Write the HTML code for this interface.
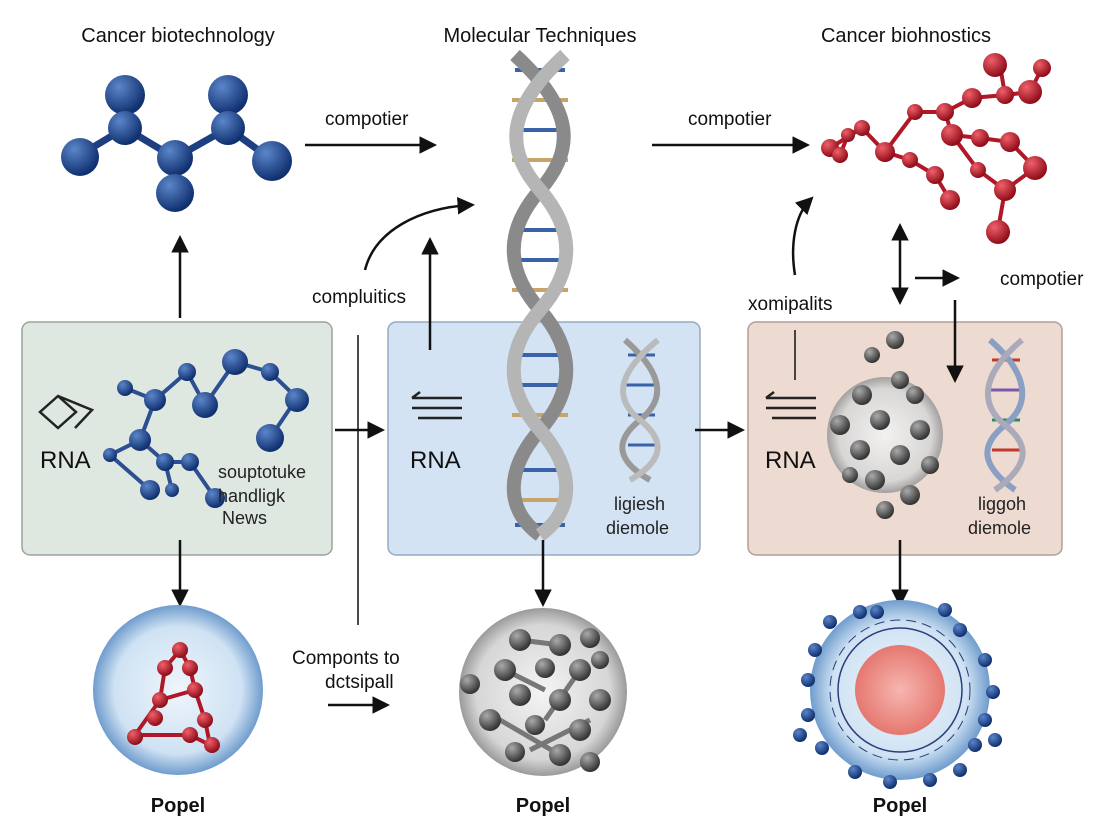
<!DOCTYPE html>
<html><head><meta charset="utf-8"><style>
body{margin:0;background:#fff;}
svg{display:block;font-family:"Liberation Sans",sans-serif;}
</style></head><body>
<svg width="1104" height="832" viewBox="0 0 1104 832">
<defs>
<radialGradient id="bb" cx="35%" cy="30%" r="70%"><stop offset="0" stop-color="#5b86c9"/><stop offset="1" stop-color="#0f2f6e"/></radialGradient>
<radialGradient id="rb" cx="35%" cy="30%" r="70%"><stop offset="0" stop-color="#f0606a"/><stop offset="1" stop-color="#8e0c18"/></radialGradient>
<radialGradient id="gb" cx="35%" cy="30%" r="70%"><stop offset="0" stop-color="#aaa"/><stop offset="1" stop-color="#333"/></radialGradient>
<radialGradient id="cellb" cx="50%" cy="50%" r="50%"><stop offset="0" stop-color="#eef5fc"/><stop offset="0.75" stop-color="#cfe2f3"/><stop offset="1" stop-color="#6f9ccd"/></radialGradient>
<radialGradient id="cellg" cx="50%" cy="50%" r="50%"><stop offset="0" stop-color="#f4f4f4"/><stop offset="0.8" stop-color="#d6d6d6"/><stop offset="1" stop-color="#9a9a9a"/></radialGradient>
<radialGradient id="pink" cx="50%" cy="50%" r="50%"><stop offset="0" stop-color="#f7b6b0"/><stop offset="1" stop-color="#e57870"/></radialGradient>
<marker id="ah" markerWidth="7" markerHeight="7" refX="5" refY="3.5" orient="auto-start-reverse" markerUnits="strokeWidth"><path d="M0,0 L7,3.5 L0,7 z" fill="#111"/></marker>
</defs>

<g font-size="20" fill="#111" text-anchor="middle">
<text x="178" y="42">Cancer biotechnology</text>
<text x="540" y="42">Molecular Techniques</text>
<text x="906" y="42">Cancer biohnostics</text>
</g>

<rect x="22" y="322" width="310" height="233" rx="8" fill="#dfe7e1" stroke="#9aa39d" stroke-width="1.5"/>
<rect x="388" y="322" width="312" height="233" rx="8" fill="#d3e3f3" stroke="#95abc2" stroke-width="1.5"/>
<rect x="748" y="322" width="314" height="233" rx="8" fill="#eddad1" stroke="#b59e94" stroke-width="1.5"/>

<g stroke="#1d3f80" stroke-width="7">
<line x1="80" y1="155" x2="125" y2="128"/><line x1="125" y1="128" x2="125" y2="95"/><line x1="125" y1="128" x2="175" y2="158"/>
<line x1="175" y1="158" x2="175" y2="192"/><line x1="175" y1="158" x2="228" y2="128"/><line x1="228" y1="128" x2="228" y2="95"/><line x1="228" y1="128" x2="272" y2="160"/>
</g>
<g fill="url(#bb)">
<circle cx="80" cy="157" r="19"/><circle cx="125" cy="95" r="20"/><circle cx="125" cy="128" r="17"/><circle cx="175" cy="158" r="18"/><circle cx="175" cy="193" r="19"/><circle cx="228" cy="95" r="20"/><circle cx="228" cy="128" r="17"/><circle cx="272" cy="161" r="20"/>
</g>

<g>
<g stroke-width="4">
<line x1="515" y1="70" x2="565" y2="70" stroke="#3a62a8"/><line x1="512" y1="100" x2="568" y2="100" stroke="#c9a46a"/>
<line x1="512" y1="130" x2="568" y2="130" stroke="#3a62a8"/><line x1="512" y1="160" x2="568" y2="160" stroke="#c9a46a"/>
<line x1="515" y1="230" x2="565" y2="230" stroke="#3a62a8"/><line x1="512" y1="260" x2="568" y2="260" stroke="#3a62a8"/>
<line x1="512" y1="290" x2="568" y2="290" stroke="#c9a46a"/><line x1="515" y1="355" x2="565" y2="355" stroke="#3a62a8"/>
<line x1="512" y1="385" x2="568" y2="385" stroke="#3a62a8"/><line x1="512" y1="415" x2="568" y2="415" stroke="#c9a46a"/>
<line x1="515" y1="470" x2="565" y2="470" stroke="#3a62a8"/><line x1="512" y1="500" x2="568" y2="500" stroke="#c9a46a"/>
<line x1="515" y1="525" x2="565" y2="525" stroke="#3a62a8"/>
</g>
<path d="M515,55 C575,110 575,150 540,190 C505,230 505,270 540,310 C575,350 575,390 540,430 C505,470 505,510 540,535" fill="none" stroke="#8a8a8a" stroke-width="14"/>
<path d="M565,55 C505,110 505,150 540,190 C575,230 575,270 540,310 C505,350 505,390 540,430 C575,470 575,510 540,535" fill="none" stroke="#b5b5b5" stroke-width="14"/>
</g>

<g>
<g stroke="#3a62a8" stroke-width="3"><line x1="628" y1="355" x2="655" y2="355"/><line x1="625" y1="385" x2="658" y2="385"/><line x1="628" y1="415" x2="655" y2="415"/><line x1="628" y1="445" x2="655" y2="445"/></g>
<path d="M625,340 C665,375 665,400 640,420 C615,440 615,460 650,480" fill="none" stroke="#999" stroke-width="6"/>
<path d="M658,340 C615,375 615,400 640,420 C665,440 665,460 630,480" fill="none" stroke="#bbb" stroke-width="6"/>
</g>

<g>
<g stroke-width="3"><line x1="992" y1="360" x2="1020" y2="360" stroke="#c0392b"/><line x1="990" y1="390" x2="1022" y2="390" stroke="#7a5aa8"/><line x1="992" y1="420" x2="1020" y2="420" stroke="#2e8b57"/><line x1="992" y1="450" x2="1020" y2="450" stroke="#c0392b"/></g>
<path d="M990,340 C1030,375 1030,405 1005,425 C980,445 980,465 1015,490" fill="none" stroke="#8a9fc4" stroke-width="6"/>
<path d="M1022,340 C980,375 980,405 1005,425 C1030,445 1030,465 995,490" fill="none" stroke="#aab" stroke-width="6"/>
</g>

<g stroke="#2c4f92" stroke-width="4" fill="none">
<polyline points="125,388 155,400 187,372 205,405 235,362 270,372 297,398 270,438"/>
<polyline points="155,400 140,440 110,455 150,490"/><polyline points="140,440 165,462 190,462 215,498"/><line x1="165" y1="462" x2="172" y2="490"/>
</g>
<g fill="url(#bb)">
<circle cx="125" cy="388" r="8"/><circle cx="155" cy="400" r="11"/><circle cx="187" cy="372" r="9"/><circle cx="205" cy="405" r="13"/><circle cx="235" cy="362" r="13"/><circle cx="270" cy="372" r="9"/><circle cx="297" cy="400" r="12"/><circle cx="270" cy="438" r="14"/>
<circle cx="140" cy="440" r="11"/><circle cx="110" cy="455" r="7"/><circle cx="150" cy="490" r="10"/><circle cx="165" cy="462" r="9"/><circle cx="190" cy="462" r="9"/><circle cx="215" cy="498" r="10"/><circle cx="172" cy="490" r="7"/>
</g>

<g fill="none" stroke="#222" stroke-width="2.5">
<path d="M40,412 L58,396 L76,412 L58,428 Z M58,396 L92,410 L75,428"/>
<path d="M412,398 h50 M412,408 h50 M418,418 h44 M412,398 l8,-6" />
<path d="M766,398 h50 M766,408 h50 M772,418 h44 M766,398 l8,-6"/>
</g>
<g font-size="24" fill="#111"><text x="40" y="468">RNA</text><text x="410" y="468">RNA</text><text x="765" y="468">RNA</text></g>
<g font-size="18" fill="#222"><text x="218" y="478">souptotuke</text><text x="218" y="502">handligk</text><text x="222" y="524">News</text>
<text x="614" y="510">ligiesh</text><text x="606" y="534">diemole</text>
<text x="978" y="510">liggoh</text><text x="968" y="534">diemole</text></g>

<circle cx="885" cy="435" r="58" fill="url(#cellg)" opacity="0.9"/>
<g fill="url(#gb)">
<circle cx="895" cy="340" r="9"/><circle cx="872" cy="355" r="8"/><circle cx="900" cy="380" r="9"/><circle cx="862" cy="395" r="10"/><circle cx="915" cy="395" r="9"/>
<circle cx="840" cy="425" r="10"/><circle cx="880" cy="420" r="10"/><circle cx="920" cy="430" r="10"/><circle cx="860" cy="450" r="10"/><circle cx="900" cy="455" r="10"/>
<circle cx="930" cy="465" r="9"/><circle cx="875" cy="480" r="10"/><circle cx="910" cy="495" r="10"/><circle cx="885" cy="510" r="9"/><circle cx="850" cy="475" r="8"/>
</g>

<g stroke="#111" stroke-width="2.5" fill="none" marker-end="url(#ah)">
<line x1="180" y1="318" x2="180" y2="240"/>
<line x1="305" y1="145" x2="432" y2="145"/>
<line x1="652" y1="145" x2="805" y2="145"/>
<path d="M365,270 C375,230 420,208 470,205"/>
<line x1="430" y1="350" x2="430" y2="242"/>
<line x1="335" y1="430" x2="380" y2="430"/>
<line x1="695" y1="430" x2="740" y2="430"/>
<line x1="180" y1="540" x2="180" y2="602"/>
<line x1="543" y1="540" x2="543" y2="602"/>
<line x1="900" y1="540" x2="900" y2="602"/>
<line x1="328" y1="705" x2="385" y2="705"/>
<path d="M795,275 C790,245 795,215 810,200"/>
<line x1="915" y1="278" x2="955" y2="278"/>
<line x1="955" y1="300" x2="955" y2="378"/>
<line x1="900" y1="228" x2="900" y2="300" marker-start="url(#ah)"/>
</g>
<line x1="358" y1="335" x2="358" y2="625" stroke="#111" stroke-width="1.5"/>
<line x1="795" y1="330" x2="795" y2="380" stroke="#111" stroke-width="1.5"/>

<g font-size="19" fill="#111">
<text x="325" y="125">compotier</text><text x="688" y="125">compotier</text><text x="1000" y="285">compotier</text>
<text x="312" y="303">compluitics</text><text x="748" y="310">xomipalits</text>
<text x="292" y="664">Componts to</text><text x="325" y="688">dctsipall</text>
</g>

<g stroke="#b01827" stroke-width="4" fill="none">
<polyline points="830,148 862,128 885,152 915,112 945,112 972,98 1005,95 1030,92 1042,68"/>
<polyline points="945,112 952,135 980,138 1010,142 1035,168 1005,190 978,170 952,135"/>
<polyline points="885,152 910,160 935,175 950,200"/><polyline points="1005,190 998,230"/><polyline points="862,128 848,135 840,155"/>
<polyline points="1005,95 1000,65 990,60"/>
</g>
<g fill="url(#rb)">
<circle cx="830" cy="148" r="9"/><circle cx="862" cy="128" r="8"/><circle cx="885" cy="152" r="10"/><circle cx="915" cy="112" r="8"/><circle cx="945" cy="112" r="9"/>
<circle cx="972" cy="98" r="10"/><circle cx="1005" cy="95" r="9"/><circle cx="1030" cy="92" r="12"/><circle cx="1042" cy="68" r="9"/><circle cx="995" cy="65" r="12"/>
<circle cx="952" cy="135" r="11"/><circle cx="980" cy="138" r="9"/><circle cx="1010" cy="142" r="10"/><circle cx="1035" cy="168" r="12"/><circle cx="1005" cy="190" r="11"/><circle cx="978" cy="170" r="8"/>
<circle cx="910" cy="160" r="8"/><circle cx="935" cy="175" r="9"/><circle cx="950" cy="200" r="10"/><circle cx="998" cy="232" r="12"/><circle cx="848" cy="135" r="7"/><circle cx="840" cy="155" r="8"/>
</g>

<circle cx="178" cy="690" r="85" fill="url(#cellb)"/>
<g stroke="#b01827" stroke-width="4" fill="none"><polyline points="180,650 165,668 160,700 135,735 160,735 190,735 210,745 205,720 195,690 190,668 180,650"/><line x1="160" y1="700" x2="195" y2="690"/></g>
<g fill="url(#rb)"><circle cx="180" cy="650" r="8"/><circle cx="165" cy="668" r="8"/><circle cx="190" cy="668" r="8"/><circle cx="160" cy="700" r="8"/><circle cx="195" cy="690" r="8"/><circle cx="155" cy="718" r="8"/><circle cx="205" cy="720" r="8"/><circle cx="135" cy="737" r="8"/><circle cx="190" cy="735" r="8"/><circle cx="212" cy="745" r="8"/></g>

<circle cx="543" cy="692" r="84" fill="url(#cellg)"/>
<g stroke="#777" stroke-width="5">
<line x1="520" y1="640" x2="560" y2="645"/><line x1="505" y1="670" x2="545" y2="690"/><line x1="580" y1="670" x2="545" y2="720"/><line x1="500" y1="720" x2="560" y2="755"/><line x1="590" y1="720" x2="530" y2="750"/>
</g>
<g fill="url(#gb)">
<circle cx="520" cy="640" r="11"/><circle cx="560" cy="645" r="11"/><circle cx="590" cy="638" r="10"/><circle cx="505" cy="670" r="11"/><circle cx="545" cy="668" r="10"/><circle cx="580" cy="670" r="11"/>
<circle cx="470" cy="684" r="10"/><circle cx="520" cy="695" r="11"/><circle cx="560" cy="700" r="11"/><circle cx="600" cy="700" r="11"/><circle cx="490" cy="720" r="11"/><circle cx="535" cy="725" r="10"/>
<circle cx="580" cy="730" r="11"/><circle cx="515" cy="752" r="10"/><circle cx="560" cy="755" r="11"/><circle cx="590" cy="762" r="10"/><circle cx="600" cy="660" r="9"/>
</g>

<circle cx="900" cy="690" r="90" fill="url(#cellb)"/>
<circle cx="900" cy="690" r="62" fill="none" stroke="#2c3e7a" stroke-width="1.5"/>
<circle cx="900" cy="690" r="70" fill="none" stroke="#2c3e7a" stroke-width="1" stroke-dasharray="10 6"/>
<circle cx="900" cy="690" r="45" fill="url(#pink)"/>
<g fill="url(#bb)">
<circle cx="830" cy="622" r="7"/><circle cx="860" cy="612" r="7"/><circle cx="877" cy="612" r="7"/><circle cx="945" cy="610" r="7"/><circle cx="960" cy="630" r="7"/><circle cx="985" cy="660" r="7"/>
<circle cx="993" cy="692" r="7"/><circle cx="985" cy="720" r="7"/><circle cx="975" cy="745" r="7"/><circle cx="960" cy="770" r="7"/><circle cx="930" cy="780" r="7"/><circle cx="890" cy="782" r="7"/>
<circle cx="855" cy="772" r="7"/><circle cx="822" cy="748" r="7"/><circle cx="808" cy="715" r="7"/><circle cx="808" cy="680" r="7"/><circle cx="815" cy="650" r="7"/><circle cx="995" cy="740" r="7"/><circle cx="800" cy="735" r="7"/>
</g>

<g font-size="20" font-weight="bold" fill="#111" text-anchor="middle">
<text x="178" y="812">Popel</text><text x="543" y="812">Popel</text><text x="900" y="812">Popel</text>
</g>
</svg>
</body></html>
